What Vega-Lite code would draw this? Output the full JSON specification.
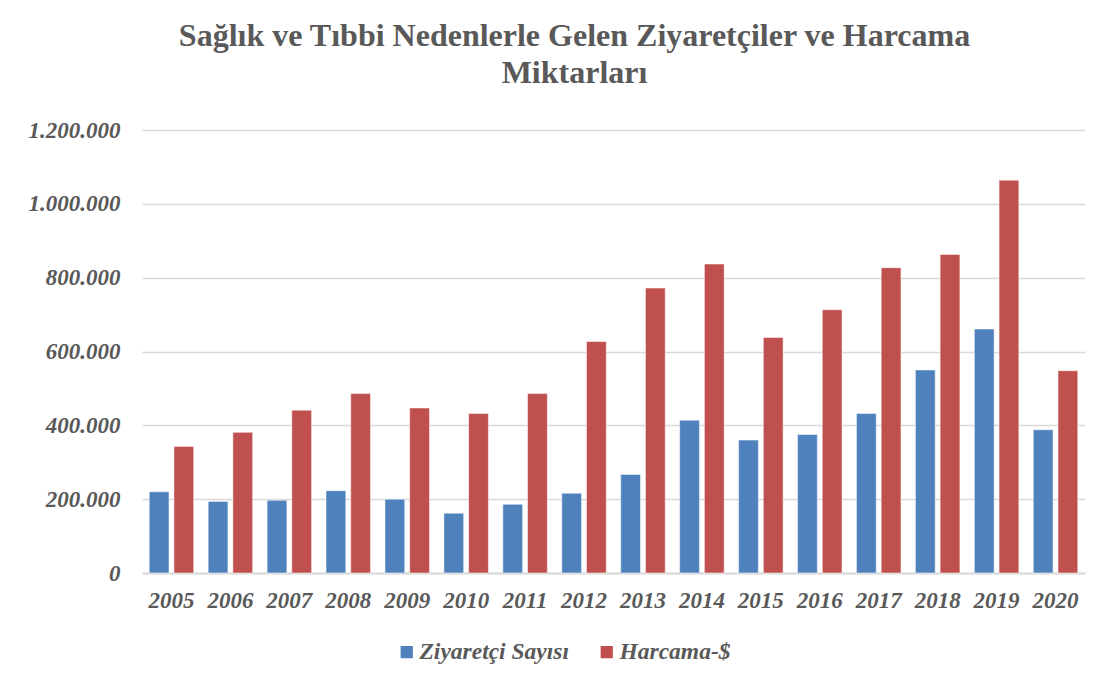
{
  "$schema": "https://vega.github.io/schema/vega-lite/v6.json",
  "width": 943,
  "height": 443,
  "autosize": {"type": "none"},
  "padding": {"left": 142, "top": 130, "right": 27, "bottom": 115},
  "background": "white",
  "title": {
    "text": ["Sağlık ve Tıbbi Nedenlerle Gelen Ziyaretçiler ve Harcama", "Miktarları"],
    "anchor": "middle",
    "frame": "group",
    "dx": -39,
    "offset": 29,
    "font": "Liberation Serif",
    "fontSize": 32,
    "fontWeight": "bold",
    "color": "#595959",
    "lineHeight": 37
  },
  "data": {
    "values": [
      {"year": "2005", "series": "Ziyaretçi Sayısı", "value": 220000},
      {"year": "2005", "series": "Harcama-$", "value": 343000},
      {"year": "2006", "series": "Ziyaretçi Sayısı", "value": 194000},
      {"year": "2006", "series": "Harcama-$", "value": 381000},
      {"year": "2007", "series": "Ziyaretçi Sayısı", "value": 197000},
      {"year": "2007", "series": "Harcama-$", "value": 441000},
      {"year": "2008", "series": "Ziyaretçi Sayısı", "value": 223000},
      {"year": "2008", "series": "Harcama-$", "value": 486000},
      {"year": "2009", "series": "Ziyaretçi Sayısı", "value": 200000},
      {"year": "2009", "series": "Harcama-$", "value": 447000},
      {"year": "2010", "series": "Ziyaretçi Sayısı", "value": 162000},
      {"year": "2010", "series": "Harcama-$", "value": 432000},
      {"year": "2011", "series": "Ziyaretçi Sayısı", "value": 186000},
      {"year": "2011", "series": "Harcama-$", "value": 486000},
      {"year": "2012", "series": "Ziyaretçi Sayısı", "value": 216000},
      {"year": "2012", "series": "Harcama-$", "value": 627000},
      {"year": "2013", "series": "Ziyaretçi Sayısı", "value": 267000},
      {"year": "2013", "series": "Harcama-$", "value": 772000},
      {"year": "2014", "series": "Ziyaretçi Sayısı", "value": 414000},
      {"year": "2014", "series": "Harcama-$", "value": 837000},
      {"year": "2015", "series": "Ziyaretçi Sayısı", "value": 360000},
      {"year": "2015", "series": "Harcama-$", "value": 638000},
      {"year": "2016", "series": "Ziyaretçi Sayısı", "value": 375000},
      {"year": "2016", "series": "Harcama-$", "value": 713000},
      {"year": "2017", "series": "Ziyaretçi Sayısı", "value": 432000},
      {"year": "2017", "series": "Harcama-$", "value": 827000},
      {"year": "2018", "series": "Ziyaretçi Sayısı", "value": 550000},
      {"year": "2018", "series": "Harcama-$", "value": 863000},
      {"year": "2019", "series": "Ziyaretçi Sayısı", "value": 661000},
      {"year": "2019", "series": "Harcama-$", "value": 1064000},
      {"year": "2020", "series": "Ziyaretçi Sayısı", "value": 388000},
      {"year": "2020", "series": "Harcama-$", "value": 548000}
    ]
  },
  "mark": {"type": "bar", "stroke": "#ffffff", "strokeWidth": 1, "strokeOpacity": 0.5},
  "encoding": {
    "x": {
      "field": "year",
      "type": "nominal",
      "title": null,
      "scale": {"paddingInner": 0.245, "paddingOuter": 0.1225},
      "axis": {
        "labelAngle": 0,
        "ticks": false,
        "domain": true,
        "domainColor": "#D9D9D9",
        "domainWidth": 2,
        "labelPadding": 16,
        "labelFont": "Liberation Serif",
        "labelFontSize": 23,
        "labelFontWeight": "bold",
        "labelFontStyle": "italic",
        "labelColor": "#595959"
      }
    },
    "xOffset": {
      "field": "series",
      "type": "nominal",
      "sort": ["Ziyaretçi Sayısı", "Harcama-$"],
      "scale": {"paddingInner": 0.2, "paddingOuter": 0}
    },
    "y": {
      "field": "value",
      "type": "quantitative",
      "title": null,
      "scale": {"domain": [0, 1200000], "nice": false},
      "axis": {
        "values": [0, 200000, 400000, 600000, 800000, 1000000, 1200000],
        "format": ",d",
        "ticks": false,
        "domain": false,
        "grid": true,
        "gridColor": "#D9D9D9",
        "gridWidth": 1.6,
        "labelPadding": 22,
        "labelFont": "Liberation Serif",
        "labelFontSize": 23,
        "labelFontWeight": "bold",
        "labelFontStyle": "italic",
        "labelColor": "#595959"
      }
    },
    "color": {
      "field": "series",
      "type": "nominal",
      "sort": ["Ziyaretçi Sayısı", "Harcama-$"],
      "scale": {"domain": ["Ziyaretçi Sayısı", "Harcama-$"], "range": ["#4F81BD", "#C0504D"]},
      "legend": {
        "title": null,
        "orient": "none",
        "direction": "horizontal",
        "legendX": 253,
        "legendY": 510,
        "symbolType": "square",
        "symbolSize": 150,
        "symbolStrokeWidth": 0,
        "labelOffset": 1,
        "columnPadding": 26,
        "labelFont": "Liberation Serif",
        "labelFontSize": 23.5,
        "labelFontWeight": "bold",
        "labelFontStyle": "italic",
        "labelColor": "#595959",
        "labelLimit": 400
      }
    }
  },
  "config": {
    "view": {"stroke": null},
    "locale": {
      "number": {"decimal": ",", "thousands": ".", "grouping": [3], "currency": ["", " TL"]}
    }
  }
}
